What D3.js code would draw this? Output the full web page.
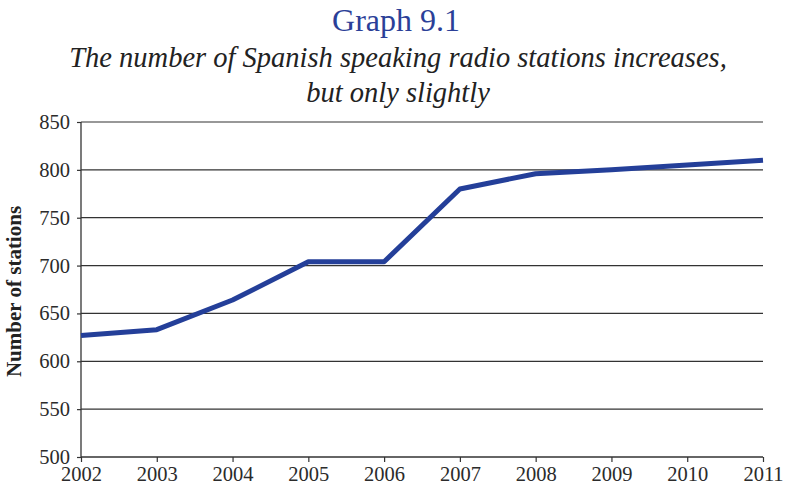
<!DOCTYPE html>
<html>
<head>
<meta charset="utf-8">
<script src="https://d3js.org/d3.v7.min.js"></script>
<style>
body { margin: 0; background: #fff; }
text { font-family: "Liberation Serif", "DejaVu Serif", serif; }
.tick text { font-size: 20.5px; fill: #2b2b2b; }
</style>
</head>
<body>
<svg width="786" height="493"></svg>
<script>
// data
const years = [2002, 2003, 2004, 2005, 2006, 2007, 2008, 2009, 2010, 2011];
const stations = [627, 633, 664, 704, 704, 780, 796, 800, 805, 810];
const yTicks = [500, 550, 600, 650, 700, 750, 800, 850];

const svg = d3.select('svg');
const margin = {top: 122, right: 23, bottom: 36, left: 81};
const width = 786 - margin.left - margin.right;
const height = 493 - margin.top - margin.bottom;

const x = d3.scaleLinear().domain([2002, 2011]).range([0, width]);
const y = d3.scaleLinear().domain([500, 850]).range([height, 0]);

const g = svg.append('g')
  .attr('transform', `translate(${margin.left},${margin.top})`);

// horizontal grid
g.selectAll('.grid').data(yTicks.slice(1))
  .enter().append('line')
    .attr('class', 'grid')
    .attr('x1', 0).attr('x2', width)
    .attr('y1', d => y(d)).attr('y2', d => y(d))
    .attr('stroke', '#333').attr('stroke-width', 1.2);

const yAxis = g.append('g')
  .call(d3.axisLeft(y).tickValues(yTicks).tickSize(4).tickPadding(7));
const xAxis = g.append('g')
  .attr('transform', `translate(0,${height})`)
  .call(d3.axisBottom(x).tickValues(years).tickFormat(d3.format('d')).tickSize(5).tickPadding(4));

[yAxis, xAxis].forEach(a => {
  a.select('.domain').attr('stroke', '#333').attr('stroke-width', 1.3);
  a.selectAll('.tick line').attr('stroke', '#333').attr('stroke-width', 1.2);
});
yAxis.select('.domain').attr('d', `M0,${height}V0`);
xAxis.select('.domain').attr('d', `M0,0H${width}`);

const line = d3.line()
  .x((d, i) => x(years[i]))
  .y(d => y(d));

g.append('path')
  .datum(stations)
  .attr('d', line)
  .attr('fill', 'none')
  .attr('stroke', '#243f99')
  .attr('stroke-width', 5)
  .attr('stroke-linejoin', 'round');

svg.append('text')
  .attr('transform', `translate(21,${margin.top + height / 2 + 2}) rotate(-90)`)
  .attr('text-anchor', 'middle')
  .attr('font-weight', 'bold')
  .attr('font-size', 21)
  .attr('fill', '#222')
  .text('Number of stations');

svg.append('text')
  .attr('x', 396).attr('y', 31)
  .attr('text-anchor', 'middle')
  .attr('font-size', 32)
  .attr('fill', '#2b3f98')
  .text('Graph 9.1');

const subtitle = ['The number of Spanish speaking radio stations increases,', 'but only slightly'];
svg.selectAll('.sub').data(subtitle)
  .enter().append('text')
    .attr('class', 'sub')
    .attr('x', 398)
    .attr('y', (d, i) => 67 + i * 35)
    .attr('text-anchor', 'middle')
    .attr('font-size', 28.5)
    .attr('font-style', 'italic')
    .attr('fill', '#222')
    .text(d => d);
</script>
</body>
</html>
